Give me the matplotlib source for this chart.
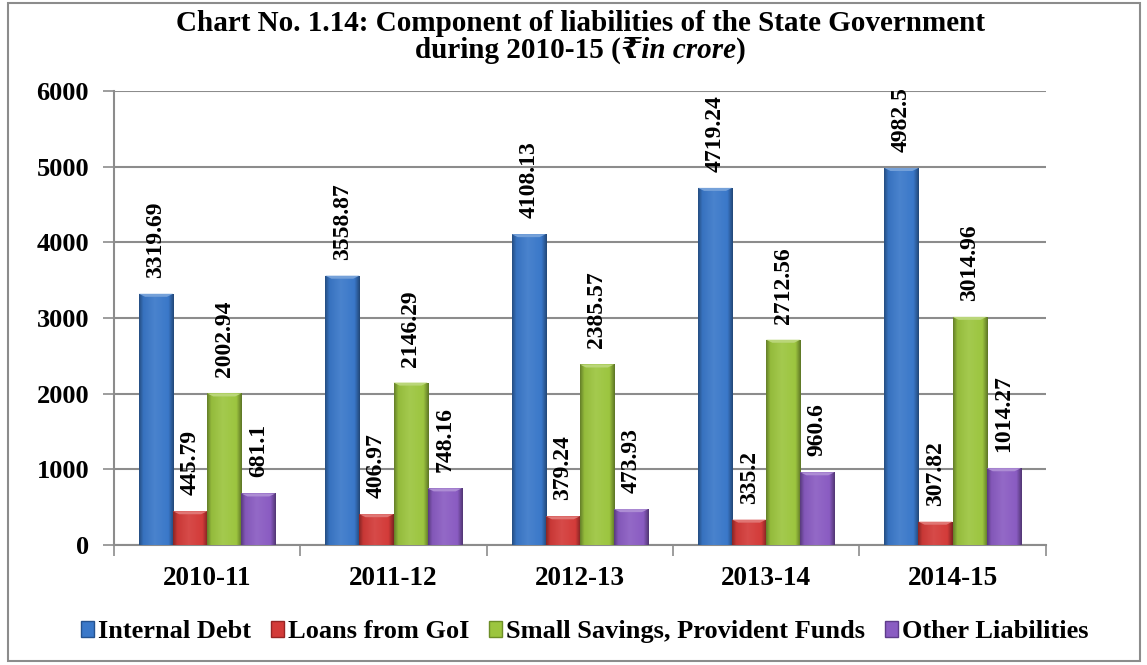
import matplotlib
matplotlib.use("Agg")
import matplotlib.pyplot as plt
from matplotlib.patches import Rectangle, Patch
from matplotlib.colors import LinearSegmentedColormap, to_rgb
import numpy as np

years = ["2010-11", "2011-12", "2012-13", "2013-14", "2014-15"]
series_names = ["Internal Debt", "Loans from GoI",
                "Small Savings, Provident Funds", "Other Liabilities"]
internal_debt = [3319.69, 3558.87, 4108.13, 4719.24, 4982.5]
loans_goi = [445.79, 406.97, 379.24, 335.2, 307.82]
small_savings = [2002.94, 2146.29, 2385.57, 2712.56, 3014.96]
other_liab = [681.1, 748.16, 473.93, 960.6, 1014.27]
label_texts = [
    ["3319.69", "3558.87", "4108.13", "4719.24", "4982.5"],
    ["445.79", "406.97", "379.24", "335.2", "307.82"],
    ["2002.94", "2146.29", "2385.57", "2712.56", "3014.96"],
    ["681.1", "748.16", "473.93", "960.6", "1014.27"],
]
colors = ["#3a78c9", "#d33b39", "#9cc53f", "#8a5cc2"]
edges = ["#24528f", "#962524", "#6d8e27", "#5e3c8a"]

SERIF = ["Liberation Serif", "DejaVu Serif", "DejaVu Sans"]
plt.rcParams["font.family"] = SERIF
plt.rcParams["font.weight"] = "bold"


def shade(c, f):
    r = np.array(to_rgb(c))
    if f >= 0:
        return tuple(r + (1 - r) * f)
    return tuple(r * (1 + f))


fig = plt.figure(figsize=(11.47, 6.65), dpi=100)
ax = fig.add_axes([0.0994, 0.1805, 0.8123, 0.6827])

values = [internal_debt, loans_goi, small_savings, other_liab]
x = np.arange(len(years))
w = 0.183
grad = np.linspace(0, 1, 64).reshape(1, -1)
for i, (vals, c, ec) in enumerate(zip(values, colors, edges)):
    cmap = LinearSegmentedColormap.from_list(
        f"g{i}", [(0, shade(c, -0.35)), (0.12, shade(c, -0.05)), (0.45, shade(c, 0.08)),
                  (0.85, c), (1, shade(c, -0.4))])
    pos = x + (i - 1.5) * w
    bars = ax.bar(pos, vals, width=w, color=c, edgecolor="none", zorder=3)
    for b in bars:
        bx, by = b.get_x(), b.get_y()
        im = ax.imshow(grad, cmap=cmap, aspect="auto", zorder=3.1,
                       extent=(bx, bx + b.get_width(), by, by + b.get_height()))
        im.set_clip_path(b)
        # light bevel on the bar top
        top = b.get_height()
        bev = 40
        ax.fill([bx, bx + b.get_width(), bx + b.get_width() * 0.82, bx + b.get_width() * 0.18],
                [top, top, top - bev, top - bev], color=shade(c, 0.3), zorder=3.2, lw=0)
    for p, v, t in zip(pos, vals, label_texts[i]):
        ax.annotate(t, (p, v), xytext=(0, 16), textcoords="offset pixels",
                    rotation=90, ha="center", va="bottom", fontsize=17,
                    fontweight="bold", zorder=4)

ax.set_xlim(-0.5, len(years) - 0.5)
ax.set_ylim(0, 6000)
ax.set_yticks(np.arange(0, 6001, 1000))
ax.set_xticks(x)
ax.set_xticklabels(years)
ax.set_xticks(np.arange(-0.5, len(years)), minor=True)
ax.tick_params(axis="x", which="major", length=0, pad=15, labelsize=19.5)
ax.tick_params(axis="x", which="minor", length=8, width=1.2, color="#8c8c8c", direction="out")
ax.tick_params(axis="y", length=8, width=1.2, color="#8c8c8c", pad=10, labelsize=19)
for lbl in ax.get_xticklabels() + ax.get_yticklabels():
    lbl.set_fontweight("bold")
ax.grid(axis="y", color="#8c8c8c", linewidth=1.5, zorder=0)
ax.set_axisbelow(True)
for s in ["top", "right"]:
    ax.spines[s].set_visible(False)
for s in ["left", "bottom"]:
    ax.spines[s].set_color("#8c8c8c")
    ax.spines[s].set_linewidth(1.5)

# title, two lines; second line mixes bold and bold italic
fig.text(0.506, 0.965, "Chart No. 1.14: Component of liabilities of the State Government",
         ha="center", va="center", fontsize=21, fontweight="bold")
renderer = fig.canvas.get_renderer()
parts = [("during 2010-15 (", "normal"), ("\u20b9in crore", "italic"), (")", "normal")]
texts = []
for s, style in parts:
    texts.append(fig.text(0, 0.924, s, ha="left", va="center", fontsize=21,
                          fontweight="bold", fontstyle=style))
widths = [t.get_window_extent(renderer).width for t in texts]
total = sum(widths)
xpix = 0.506 * fig.bbox.width - total / 2
for t, wd in zip(texts, widths):
    t.set_x(xpix / fig.bbox.width)
    xpix += wd

handles = [Patch(facecolor=c, edgecolor=ec) for c, ec in zip(colors, edges)]
fig.legend(handles, series_names, loc="center", bbox_to_anchor=(0.51, 0.05), ncol=4,
           frameon=False, handlelength=0.5, handleheight=0.6,
           handletextpad=0.15, columnspacing=0.75, prop={"weight": "bold", "size": 19})

fig.patches.append(Rectangle((0.007, 0.006), 0.987, 0.989, transform=fig.transFigure,
                             fill=False, edgecolor="#8c8c8c", linewidth=1.5))

fig.savefig("out.png", dpi=100)
